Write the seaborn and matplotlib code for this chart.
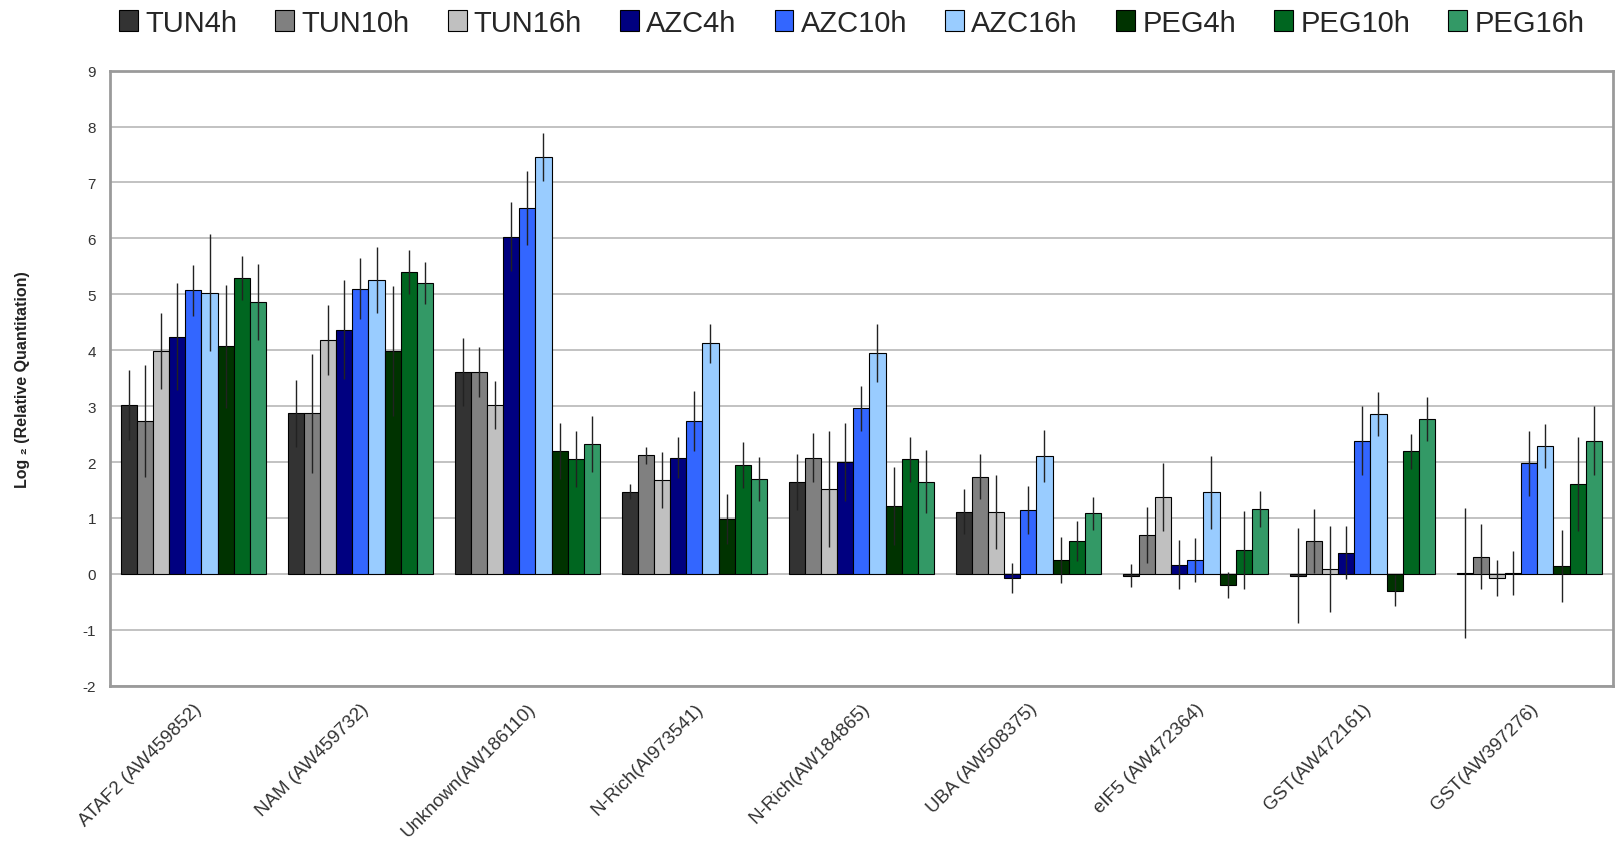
import numpy as np
import pandas as pd
import matplotlib
matplotlib.use("Agg")
import matplotlib.pyplot as plt
import seaborn as sns

genes = ["ATAF2 (AW459852)", "NAM (AW459732)", "Unknown(AW186110)", "N-Rich(AI973541)",
         "N-Rich(AW184865)", "UBA (AW508375)", "eIF5 (AW472364)", "GST(AW472161)",
         "GST(AW397276)"]
conditions = ["TUN4h", "TUN10h", "TUN16h", "AZC4h", "AZC10h", "AZC16h",
              "PEG4h", "PEG10h", "PEG16h"]

# mean log2 relative quantitation, one list per condition (ordered as genes)
tun4h = [3.02, 2.87, 3.61, 1.47, 1.65, 1.11, -0.03, -0.03, 0.02]
tun10h = [2.73, 2.87, 3.61, 2.12, 2.08, 1.74, 0.69, 0.59, 0.31]
tun16h = [3.98, 4.18, 3.02, 1.68, 1.52, 1.11, 1.38, 0.08, -0.07]
azc4h = [4.24, 4.37, 6.03, 2.08, 2.00, -0.07, 0.16, 0.38, 0.02]
azc10h = [5.07, 5.10, 6.54, 2.73, 2.96, 1.14, 0.25, 2.38, 1.98]
azc16h = [5.03, 5.25, 7.46, 4.12, 3.95, 2.11, 1.46, 2.86, 2.29]
peg4h = [4.07, 3.98, 2.19, 0.98, 1.21, 0.25, -0.20, -0.30, 0.14]
peg10h = [5.29, 5.40, 2.06, 1.95, 2.05, 0.59, 0.42, 2.19, 1.60]
peg16h = [4.86, 5.20, 2.32, 1.70, 1.65, 1.08, 1.16, 2.77, 2.38]

# error bar half-lengths
tun4h_err = [0.63, 0.60, 0.60, 0.13, 0.50, 0.40, 0.20, 0.85, 1.16]
tun10h_err = [1.00, 1.07, 0.44, 0.15, 0.44, 0.40, 0.50, 0.57, 0.58]
tun16h_err = [0.68, 0.62, 0.43, 0.50, 1.04, 0.66, 0.61, 0.77, 0.32]
azc4h_err = [0.96, 0.88, 0.62, 0.37, 0.70, 0.27, 0.44, 0.48, 0.39]
azc10h_err = [0.45, 0.55, 0.66, 0.54, 0.40, 0.43, 0.40, 0.62, 0.58]
azc16h_err = [1.05, 0.59, 0.43, 0.35, 0.52, 0.46, 0.65, 0.40, 0.39]
peg4h_err = [1.10, 1.16, 0.50, 0.44, 0.70, 0.41, 0.23, 0.28, 0.65]
peg10h_err = [0.40, 0.40, 0.50, 0.41, 0.40, 0.36, 0.70, 0.31, 0.84]
peg16h_err = [0.68, 0.38, 0.50, 0.39, 0.56, 0.30, 0.33, 0.39, 0.62]

colors = ["#333333", "#808080", "#c0c0c0", "#000080", "#3366ff", "#99ccff",
          "#003300", "#006620", "#339966"]

values = [tun4h, tun10h, tun16h, azc4h, azc10h, azc16h, peg4h, peg10h, peg16h]
errors = [tun4h_err, tun10h_err, tun16h_err, azc4h_err, azc10h_err, azc16h_err,
          peg4h_err, peg10h_err, peg16h_err]

df = pd.DataFrame({
    "gene": np.tile(genes, len(conditions)),
    "condition": np.repeat(conditions, len(genes)),
    "value": np.concatenate(values),
})

sns.set_theme(style="white")
plt.rcParams["font.family"] = ["Liberation Sans", "DejaVu Sans"]
plt.rcParams["axes.unicode_minus"] = False

fig = plt.figure(figsize=(16.16, 8.53), dpi=100)
ax = fig.add_axes([0.068, 0.195, 0.93, 0.721])

sns.barplot(data=df, x="gene", y="value", hue="condition", order=genes,
            hue_order=conditions, palette=colors, saturation=1, width=0.87,
            gap=0, edgecolor="black", linewidth=0.8, errorbar=None, ax=ax,
            legend=False)

# error bars centred on each drawn bar
for cont, errs in zip(ax.containers, errors):
    xs = [p.get_x() + p.get_width() / 2 for p in cont.patches]
    ys = [p.get_y() + p.get_height() for p in cont.patches]
    ax.errorbar(xs, ys, yerr=errs, fmt="none", ecolor="#222222",
                elinewidth=1.0, capsize=0, zorder=5)

ax.set_ylim(-2, 9)
ax.set_xlim(-0.5, len(genes) - 0.5)
ax.set_yticks(range(-2, 10))
ax.yaxis.grid(True, color="#bdbdbd", linewidth=1.3)
ax.set_axisbelow(True)
for s in ax.spines.values():
    s.set_color("#9a9a9a")
    s.set_linewidth(2)

ax.tick_params(axis="y", labelsize=11, colors="#333333", length=0, pad=10)
ax.tick_params(axis="x", length=0, pad=10)
plt.setp(ax.get_xticklabels(), rotation=45, ha="right", rotation_mode="anchor",
         fontsize=13.5, color="#333333")
ax.set_xlabel("")
ax.set_ylabel("Log \u2082 (Relative Quantitation)", fontsize=11.5, fontweight="bold",
              color="#222222", labelpad=38)

handles = [plt.Rectangle((0, 0), 1, 1, facecolor=c, edgecolor="black", linewidth=0.8)
           for c in colors]
fig.legend(handles, conditions, loc="center", bbox_to_anchor=(0.527, 0.972),
           ncol=9, frameon=False, fontsize=21, handlelength=0.65, handleheight=0.75,
           handletextpad=0.25, columnspacing=1.3)

fig.savefig("out.png", dpi=100)
